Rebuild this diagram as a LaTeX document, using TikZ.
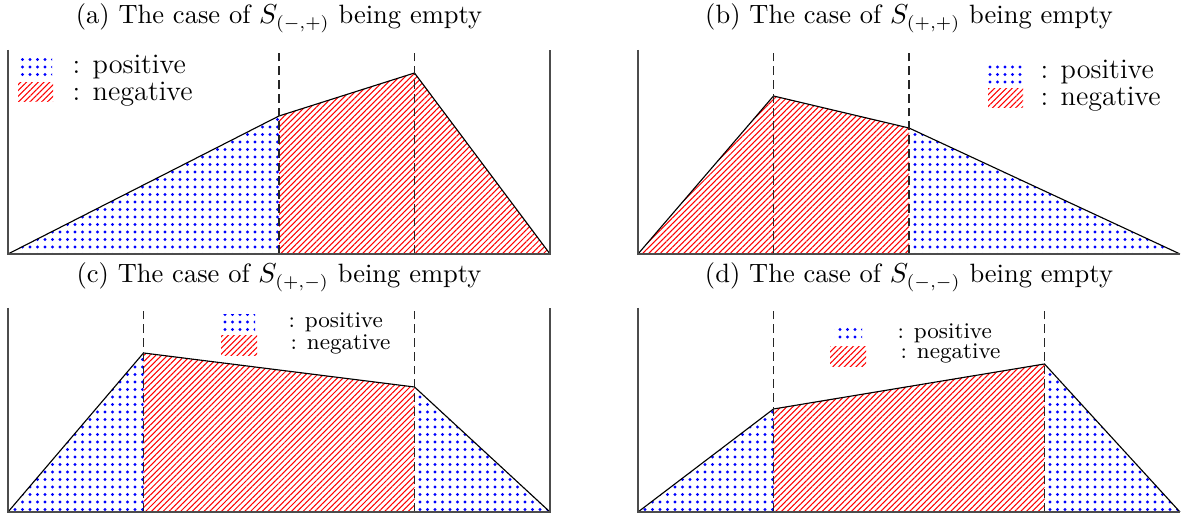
\documentclass[tikz,border=0pt]{standalone}
\usepackage{amsmath,amssymb}
\usepackage{tikz}
\usetikzlibrary{patterns.meta}

\begin{document}
\begin{tikzpicture}[
    x=0.4pt,y=0.4pt,
    posfill/.style={pattern={Dots[distance=3pt,radius=0.62pt]},pattern color=blue},
    negfill/.style={pattern={Lines[angle=45,distance=1.65pt,line width=0.42pt]},pattern color=red},
    axis/.style={draw=black!70,line width=0.7pt},
    curve/.style={draw=black,line width=0.45pt},
    guide/.style={draw=black!85,line width=0.5pt,dash pattern=on 3.5pt off 2pt},
    title/.style={anchor=base,font=\fontsize{10.6}{13}\selectfont},
    bigleg/.style={anchor=base west,inner sep=0pt,text depth=0pt,font=\fontsize{11.3}{13}\selectfont},
    smallleg/.style={anchor=base west,inner sep=0pt,text depth=0pt,font=\fontsize{9}{11}\selectfont},
]
\useasboundingbox (0,0) rectangle (1181,517);

% ===== Titles =====
\node[title] (titleA) at (279,493) {(a) The case of $S_{(-,+)}$ being empty};
\node[title] (titleB) at (909,493) {(b) The case of $S_{(+,+)}$ being empty};
\node[title] (titleC) at (279,234) {(c) The case of $S_{(+,-)}$ being empty};
\node[title] (titleD) at (909,234) {(d) The case of $S_{(-,-)}$ being empty};

% ===== (a) =====
\begin{scope}[shift={(8,263)}]
    \path[posfill] (0,0) -- (271,138) -- (271,0) -- cycle;
    \path[negfill] (271,0) -- (271,138) -- (406.5,181) -- (542,0) -- cycle;
    \draw[curve] (0,0) -- (271,138) -- (406.5,181) -- (542,0);
    \draw[guide] (271,0) -- (271,204);
    \draw[guide] (406.5,0) -- (406.5,204);
    \draw[axis] (0,204) -- (0,0) -- (542,0) -- (542,204);
    % legend
    \path[posfill] (11,177) rectangle (44,195);
    \path[negfill] (10,152) rectangle (45,171);
    \node[bigleg] (posA) at (64,180) {:\hspace{5pt}positive};
    \node[bigleg] (negA) at (64,153) {:\hspace{5pt}negative};
\end{scope}

% ===== (b) =====
\begin{scope}[shift={(638,263)}]
    \path[negfill] (0,0) -- (135.5,158) -- (271,126) -- (271,0) -- cycle;
    \path[posfill] (271,0) -- (271,126) -- (542,0) -- cycle;
    \draw[curve] (0,0) -- (135.5,158) -- (271,126) -- (542,0);
    \draw[guide] (135.5,0) -- (135.5,204);
    \draw[guide] (271,0) -- (271,204);
    \draw[axis] (0,204) -- (0,0) -- (542,0);
    % legend
    \path[posfill] (350,170) rectangle (384,188);
    \path[negfill] (350,146) rectangle (385,165);
    \node[bigleg] (posB) at (402,175) {:\hspace{5pt}positive};
    \node[bigleg] (negB) at (402,148) {:\hspace{5pt}negative};
\end{scope}

% ===== (c) =====
\begin{scope}[shift={(8,5)}]
    \path[posfill] (0,0) -- (135.5,159) -- (135.5,0) -- cycle;
    \path[negfill] (135.5,0) -- (135.5,159) -- (406.5,125) -- (406.5,0) -- cycle;
    \path[posfill] (406.5,0) -- (406.5,125) -- (542,0) -- cycle;
    \draw[curve] (0,0) -- (135.5,159) -- (406.5,125) -- (542,0);
    \draw[guide] (135.5,0) -- (135.5,204);
    \draw[guide] (406.5,0) -- (406.5,204);
    \draw[axis] (0,204) -- (0,0) -- (542,0) -- (542,204);
    % legend
    \path[posfill] (213,180) rectangle (247,197);
    \path[negfill] (213,156) rectangle (249,176);
    \node[smallleg] (posC) at (280,184) {:\hspace{4pt}positive};
    \node[smallleg] (negC) at (282,162) {:\hspace{4pt}negative};
\end{scope}

% ===== (d) =====
\begin{scope}[shift={(638,5)}]
    \path[posfill] (0,0) -- (135.5,103) -- (135.5,0) -- cycle;
    \path[negfill] (135.5,0) -- (135.5,103) -- (406.5,148) -- (406.5,0) -- cycle;
    \path[posfill] (406.5,0) -- (406.5,148) -- (542,0) -- cycle;
    \draw[curve] (0,0) -- (135.5,103) -- (406.5,148) -- (542,0);
    \draw[guide] (135.5,0) -- (135.5,204);
    \draw[guide] (406.5,0) -- (406.5,204);
    \draw[axis] (0,204) -- (0,0) -- (542,0);
    % legend
    \path[posfill] (196,170) rectangle (224,187);
    \path[negfill] (192,145) rectangle (228,165);
    \node[smallleg] (posD) at (259,173) {:\hspace{4pt}positive};
    \node[smallleg] (negD) at (262,153) {:\hspace{4pt}negative};
\end{scope}

\end{tikzpicture}
\end{document}
